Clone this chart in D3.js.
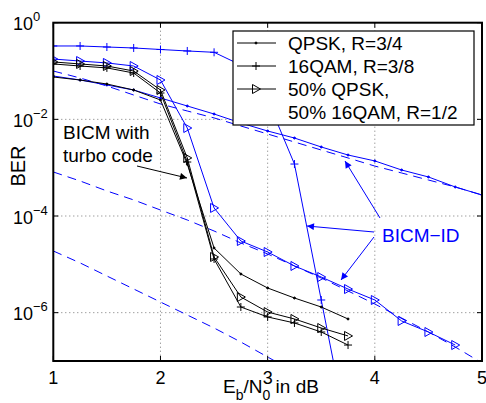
<!DOCTYPE html>
<html>
<head>
<meta charset="utf-8">
<script src="https://cdn.jsdelivr.net/npm/d3@7"></script>
<style>
  body { margin: 0; background: #fff; }
  svg text { font-family: "Liberation Sans", Arial, Helvetica, sans-serif; }
</style>
</head>
<body>
<div id="chart"></div>
<script>
// Eb/N0 points (dB)
const ebn0Short = [1, 1.25, 1.5, 1.75, 2, 2.25, 2.5, 2.75, 3, 3.25, 3.5, 3.75];
const ebn0Long = [1, 1.25, 1.5, 1.75, 2, 2.25, 2.5, 2.75, 3, 3.25, 3.5, 3.75, 4, 4.25, 4.5, 4.75, 5];
const ebn0Mix = [1, 1.25, 1.5, 1.75, 2, 2.25, 2.5, 2.75, 3, 3.25, 3.5, 3.75, 4, 4.25, 4.5, 4.75];
const ebn0Bound16 = [1, 1.25, 1.5, 1.75, 2, 2.25, 2.5, 2.75, 3, 3.25];

// BICM with turbo code (black)
const berQpsk = [7.52e-2, 6.52e-2, 5.39e-2, 4.05e-2, 2.52e-2, 1.19e-3, 2.18e-5, 6.32e-6, 3.24e-6, 2.01e-6, 1.31e-6, 7.41e-7];
const ber16qam = [0.140, 0.127, 0.116, 9.10e-2, 3.51e-2, 1.31e-3, 1.29e-5, 1.31e-6, 8.15e-7, 6.12e-7, 3.98e-7, 2.14e-7];
const berMix = [0.154, 0.140, 0.127, 0.100, 4.05e-2, 1.59e-3, 1.42e-5, 2.11e-6, 1.03e-6, 7.41e-7, 4.82e-7, 3.30e-7];

// BICM-ID (blue)
const berQpskId = [7.89e-2, 6.52e-2, 5.14e-2, 4.05e-2, 2.77e-2, 1.89e-2, 1.29e-2, 8.41e-3, 5.74e-3, 4.11e-3, 2.68e-3, 1.83e-3, 1.38e-3, 8.96e-4, 6.43e-4, 3.99e-4, 2.72e-4];
const ber16qamId = [0.330, 0.330, 0.314, 0.300, 0.279, 0.260, 0.244, 0.133, 2.52e-2, 1.19e-3, 1.83e-6, 2.9e-9];
const berMixId = [0.177, 0.161, 0.147, 0.127, 6.52e-2, 6.62e-3, 1.47e-4, 3.04e-5, 1.80e-5, 9.25e-6, 5.47e-6, 3.08e-6, 1.83e-6, 6.73e-7, 3.98e-7, 2.14e-7];

// error-free feedback bounds (blue dashed)
const boundQpsk = [0.100, 7.18e-2, 4.90e-2, 3.19e-2, 2.08e-2, 1.49e-2, 1.07e-2, 7.29e-3, 4.98e-3, 3.40e-3, 2.32e-3, 1.59e-3, 1.08e-3, 7.77e-4, 5.56e-4, 3.99e-4, 2.72e-4];
const boundMix = [8.15e-4, 5.31e-4, 3.30e-4, 2.15e-4, 1.33e-4, 8.28e-5, 4.90e-5, 2.77e-5, 1.64e-5, 9.25e-6, 5.22e-6, 2.81e-6, 1.51e-6, 7.77e-7, 3.98e-7, 1.95e-7, 9.1e-8];
const bound16qam = [1.89e-5, 1.07e-5, 5.74e-6, 3.09e-6, 1.66e-6, 8.95e-7, 4.82e-7, 2.47e-7, 1.21e-7, 5.93e-8];

const xTicks = [1, 2, 3, 4, 5];
const yTicks = [1, 1e-2, 1e-4, 1e-6];
const yTickExp = ["0", "\u22122", "\u22124", "\u22126"];
const legendLabels = [["QPSK, R=3/4"], ["16QAM, R=3/8"], ["50% QPSK,", "50% 16QAM, R=1/2"]];

const width = 486, height = 403;
const margin = { top: 22.7, right: 4, bottom: 42, left: 53.3 };
const BLUE = "#0000ff";

const svg = d3.select("#chart").append("svg")
  .attr("width", width)
  .attr("height", height);

const x = d3.scaleLinear().domain([1, 5]).range([margin.left, width - margin.right]);
const y = d3.scaleLog().domain([1e-7, 1]).range([height - margin.bottom, margin.top]);

svg.append("defs").append("clipPath").attr("id", "plotclip")
  .append("rect")
  .attr("x", x(1)).attr("y", y(1))
  .attr("width", x(5) - x(1)).attr("height", y(1e-7) - y(1));

// grid
const grid = svg.append("g").attr("stroke", "#777").attr("stroke-width", 1).attr("stroke-dasharray", "1,3");
grid.selectAll("line.gx").data([2, 3, 4]).enter().append("line")
  .attr("x1", (d) => x(d)).attr("x2", (d) => x(d))
  .attr("y1", y(1)).attr("y2", y(1e-7));
grid.selectAll("line.gy").data([1e-2, 1e-4, 1e-6]).enter().append("line")
  .attr("y1", (d) => y(d)).attr("y2", (d) => y(d))
  .attr("x1", x(1)).attr("x2", x(5));

const plot = svg.append("g").attr("clip-path", "url(#plotclip)");
const line = d3.line().x((d) => x(d[0])).y((d) => y(d[1]));

function drawSeries(xs, ys, color, marker, dashed) {
  const pts = xs.map((v, i) => [v, ys[i]]);
  plot.append("path")
    .datum(pts)
    .attr("fill", "none")
    .attr("stroke", color)
    .attr("stroke-width", 1)
    .attr("stroke-dasharray", dashed ? "9,6" : null)
    .attr("d", line);
  if (marker) {
    plot.selectAll(null).data(pts).enter()
      .append("path")
      .attr("transform", (d) => "translate(" + x(d[0]) + "," + y(d[1]) + ")")
      .attr("d", markerPath(marker))
      .attr("fill", marker === "dot" ? color : "none")
      .attr("stroke", color)
      .attr("stroke-width", 1);
  }
}

function markerPath(m) {
  if (m === "plus") return "M-4,0H4M0,-4V4";
  if (m === "tri") return "M-3.5,-4.5L4.5,0L-3.5,4.5Z";
  return "M-1,0A1,1 0 1,0 1,0A1,1 0 1,0 -1,0Z";
}

drawSeries(ebn0Long, boundQpsk, BLUE, null, true);
drawSeries(ebn0Long, boundMix, BLUE, null, true);
drawSeries(ebn0Bound16, bound16qam, BLUE, null, true);

drawSeries(ebn0Long, berQpskId, BLUE, "dot");
drawSeries(ebn0Short, ber16qamId, BLUE, "plus");
drawSeries(ebn0Mix, berMixId, BLUE, "tri");

drawSeries(ebn0Short, berQpsk, "#000", "dot");
drawSeries(ebn0Short, ber16qam, "#000", "plus");
drawSeries(ebn0Short, berMix, "#000", "tri");

// axes box
svg.append("rect")
  .attr("x", x(1)).attr("y", y(1))
  .attr("width", x(5) - x(1)).attr("height", y(1e-7) - y(1))
  .attr("fill", "none").attr("stroke", "#000").attr("stroke-width", 2);

// ticks inward on all sides
const tk = svg.append("g").attr("stroke", "#000").attr("stroke-width", 1);
xTicks.forEach((t) => {
  tk.append("line").attr("x1", x(t)).attr("x2", x(t)).attr("y1", y(1e-7)).attr("y2", y(1e-7) - 5);
  tk.append("line").attr("x1", x(t)).attr("x2", x(t)).attr("y1", y(1)).attr("y2", y(1) + 5);
});
yTicks.forEach((t) => {
  tk.append("line").attr("y1", y(t)).attr("y2", y(t)).attr("x1", x(1)).attr("x2", x(1) + 5);
  tk.append("line").attr("y1", y(t)).attr("y2", y(t)).attr("x1", x(5)).attr("x2", x(5) - 5);
});

// tick labels
svg.selectAll("text.xt").data(xTicks).enter().append("text")
  .attr("x", (d) => x(d)).attr("y", 384)
  .attr("text-anchor", "middle").attr("font-size", 18)
  .text((d) => d);

yTicks.forEach((t, i) => {
  const tx = svg.append("text").attr("x", 13).attr("y", y(t) + 7.5).attr("font-size", 18);
  tx.append("tspan").text("10");
  tx.append("tspan").attr("dy", -9).attr("font-size", 13).text(yTickExp[i]);
});

// axis labels
svg.append("text")
  .attr("transform", "translate(25," + 166 + ") rotate(-90)")
  .attr("text-anchor", "middle").attr("font-size", 20)
  .text("BER");

const xl = svg.append("text").attr("x", 271).attr("y", 393)
  .attr("text-anchor", "middle").attr("font-size", 19);
xl.append("tspan").text("E");
xl.append("tspan").attr("dy", 7).attr("font-size", 14).text("b");
xl.append("tspan").attr("dy", -7).text("/N");
xl.append("tspan").attr("dy", 7).attr("font-size", 14).text("0");
xl.append("tspan").attr("dy", -7).text(" in dB");

// legend
const lg = svg.append("g");
lg.append("rect").attr("x", 233).attr("y", 31).attr("width", 241).attr("height", 94)
  .attr("fill", "#fff").attr("stroke", "#000").attr("stroke-width", 1.2);
const legendMarkers = ["dot", "plus", "tri"];
const legendRowY = [43, 66, 89];
legendLabels.forEach((lab, i) => {
  const ly = legendRowY[i];
  lg.append("line").attr("x1", 237).attr("x2", 276).attr("y1", ly).attr("y2", ly)
    .attr("stroke", "#000").attr("stroke-width", 1);
  lg.append("path").attr("transform", "translate(256," + ly + ")")
    .attr("d", markerPath(legendMarkers[i]))
    .attr("fill", legendMarkers[i] === "dot" ? "#000" : "none")
    .attr("stroke", "#000");
  lab.forEach((s, j) => {
    lg.append("text").attr("x", 288).attr("y", ly + 7 + j * 23)
      .attr("font-size", 19).text(s);
  });
});

// annotations
const defs = svg.select("defs");
[["arrBlack", "#000"], ["arrBlue", BLUE]].forEach(([id, c]) => {
  defs.append("marker").attr("id", id)
    .attr("viewBox", "0 0 10 10").attr("refX", 10).attr("refY", 5)
    .attr("markerWidth", 10).attr("markerHeight", 7)
    .attr("markerUnits", "userSpaceOnUse")
    .attr("orient", "auto")
    .append("path").attr("d", "M0,0L10,5L0,10Z").attr("fill", c);
});

const an = svg.append("g").attr("font-size", 19);
an.append("text").attr("x", 63).attr("y", 139).text("BICM with");
an.append("text").attr("x", 63).attr("y", 162).text("turbo code");
an.append("line").attr("x1", 137).attr("y1", 166).attr("x2", 187).attr("y2", 178)
  .attr("stroke", "#000").attr("marker-end", "url(#arrBlack)");

an.append("text").attr("x", 382).attr("y", 242).attr("fill", BLUE).text("BICM\u2212ID");
[[380, 218, 345, 161], [374, 232, 307, 226], [374, 237, 341, 280]].forEach((a) => {
  an.append("line").attr("x1", a[0]).attr("y1", a[1]).attr("x2", a[2]).attr("y2", a[3])
    .attr("stroke", BLUE).attr("marker-end", "url(#arrBlue)");
});
</script>
</body>
</html>
